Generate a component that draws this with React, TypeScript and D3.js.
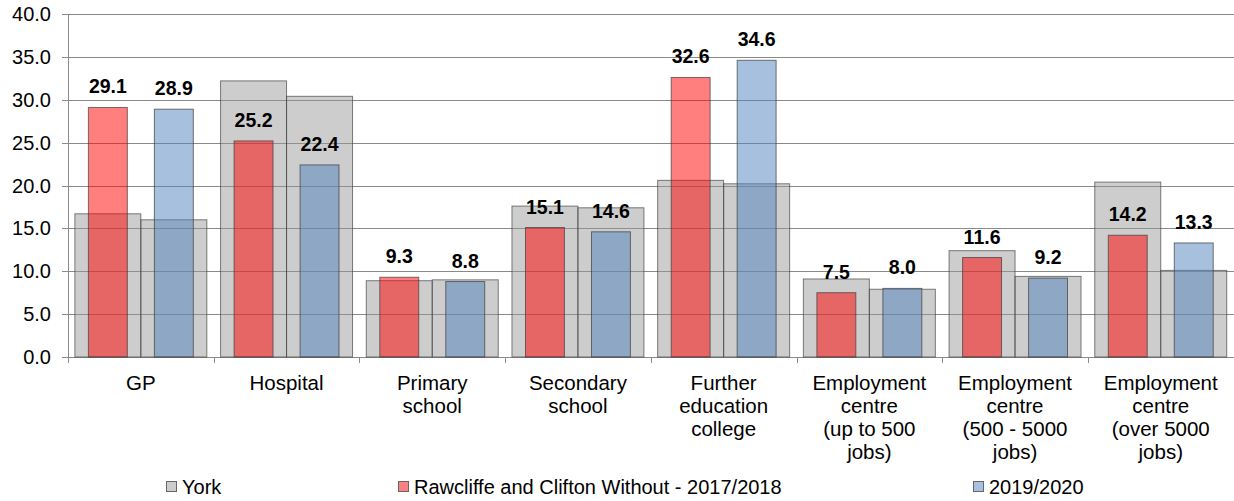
import React from "react";
import * as d3 from "d3";

const categories: string[][] = [
  ["GP"],
  ["Hospital"],
  ["Primary", "school"],
  ["Secondary", "school"],
  ["Further", "education", "college"],
  ["Employment", "centre", "(up to 500", "jobs)"],
  ["Employment", "centre", "(500 - 5000", "jobs)"],
  ["Employment", "centre", "(over 5000", "jobs)"],
];
const periods = ["2017/2018", "2019/2020"];
const york2017 = [16.7, 32.2, 8.9, 17.6, 20.6, 9.1, 12.4, 20.4];
const york2019 = [16.0, 30.4, 9.0, 17.4, 20.2, 7.9, 9.4, 10.1];
const ward2017 = [29.1, 25.2, 9.3, 15.1, 32.6, 7.5, 11.6, 14.2];
const ward2019 = [28.9, 22.4, 8.8, 14.6, 34.6, 8.0, 9.2, 13.3];
const yTicks = [0, 5, 10, 15, 20, 25, 30, 35, 40];
const legendItems = ["York", "Rawcliffe and Clifton Without - 2017/2018", "2019/2020"];

const W = 1234;
const H = 501;
const FONT = "'Liberation Sans', Arial, Helvetica, sans-serif";

export default function App() {
  const left = 68;
  const right = 1233.6;
  const top = 14;
  const bottom = 357;
  const y = d3.scaleLinear().domain([0, 40]).range([bottom, top]);
  const catIdx = categories.map((_, i) => String(i));
  const x0 = d3.scaleBand<string>().domain(catIdx).range([left, right]).padding(0);
  const x1 = d3
    .scaleBand<string>()
    .domain(periods)
    .range([0, x0.bandwidth()])
    .paddingInner(0)
    .paddingOuter(0.104);
  const greyW = x1.bandwidth();
  const colW = greyW * 0.59;

  const yorkFill = "rgba(150,150,150,0.48)";
  const yorkStroke = "rgba(60,60,60,0.65)";
  const fills = ["rgba(255,0,0,0.5)", "rgba(79,129,189,0.5)"];
  const colStroke = "rgba(60,60,60,0.7)";
  const york = [york2017, york2019];
  const ward = [ward2017, ward2019];

  const legendX = [166, 398, 973];
  const legendFills = ["#cccccc", "#ff8080", "#a7c0de"];

  return (
    <svg
      width={W}
      height={H}
      style={{ position: "absolute", left: 0, top: 0, background: "#fff" }}
      fontFamily={FONT}
    >
      {/* gridlines */}
      {yTicks.map((t) => (
        <line
          key={"g" + t}
          x1={left - 6}
          x2={W}
          y1={Math.round(y(t)) + 0.5}
          y2={Math.round(y(t)) + 0.5}
          stroke="#8a8a8a"
          strokeWidth={1}
        />
      ))}
      {/* y tick labels */}
      {yTicks.map((t) => (
        <text
          key={"t" + t}
          x={51}
          y={y(t)}
          dy="0.35em"
          textAnchor="end"
          fontSize={20}
          fill="#000"
        >
          {t.toFixed(1)}
        </text>
      ))}
      {/* axes */}
      <line x1={left + 0.5} x2={left + 0.5} y1={top} y2={bottom + 5} stroke="#8a8a8a" />
      {d3.range(categories.length + 1).map((i) => {
        const xx = Math.round(left + i * x0.step()) + 0.5;
        return <line key={"xt" + i} x1={xx} x2={xx} y1={bottom} y2={bottom + 6} stroke="#8a8a8a" />;
      })}
      {/* bars */}
      {catIdx.map((c, ci) => (
        <g key={"c" + c}>
          {periods.map((p, pi) => {
            const gx = (x0(c) as number) + (x1(p) as number);
            return (
              <rect
                key={"y" + p}
                x={gx}
                y={y(york[pi][ci])}
                width={greyW}
                height={bottom - y(york[pi][ci])}
                fill={yorkFill}
                stroke={yorkStroke}
                strokeWidth={1}
              />
            );
          })}
          {periods.map((p, pi) => {
            const gx = (x0(c) as number) + (x1(p) as number);
            const cx = gx + greyW / 2;
            const v = ward[pi][ci];
            return (
              <g key={"w" + p}>
                <rect
                  x={cx - colW / 2}
                  y={y(v)}
                  width={colW}
                  height={bottom - y(v)}
                  fill={fills[pi]}
                  stroke={colStroke}
                  strokeWidth={1}
                />
                <text
                  x={cx}
                  y={y(v) - 14}
                  textAnchor="middle"
                  fontSize={19.5}
                  fontWeight="bold"
                  fill="#000"
                >
                  {v.toFixed(1)}
                </text>
              </g>
            );
          })}
        </g>
      ))}
      {/* category labels */}
      {categories.map((lines, i) => {
        const cx = (x0(String(i)) as number) + x0.bandwidth() / 2;
        return (
          <text key={"cl" + i} x={cx} y={389.5} textAnchor="middle" fontSize={20.5} fill="#000">
            {lines.map((l, li) => (
              <tspan key={li} x={cx} dy={li === 0 ? 0 : 23}>
                {l}
              </tspan>
            ))}
          </text>
        );
      })}
      {/* legend */}
      {legendItems.map((name, i) => (
        <g key={"lg" + i}>
          <rect
            x={legendX[i] + 0.5}
            y={481.5}
            width={10}
            height={10}
            fill={legendFills[i]}
            stroke="#666"
            strokeWidth={1}
          />
          <text x={legendX[i] + 16} y={494} fontSize={20} fill="#000">
            {name}
          </text>
        </g>
      ))}
    </svg>
  );
}
